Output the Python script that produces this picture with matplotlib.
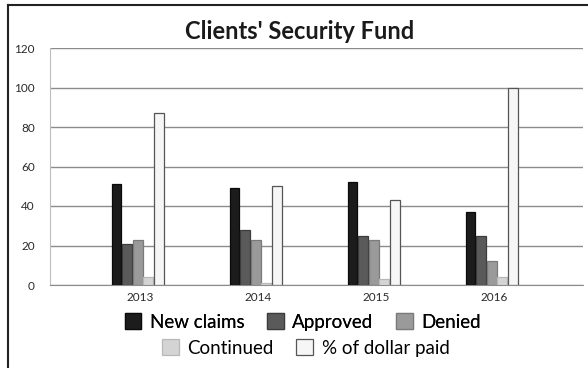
import numpy as np
import matplotlib
matplotlib.use("Agg")
import matplotlib.pyplot as plt
from matplotlib.patches import Patch
from matplotlib.lines import Line2D

plt.rcParams["font.family"] = ["Lato", "DejaVu Sans"]

years = ["2013", "2014", "2015", "2016"]
series = ["New claims", "Approved", "Denied", "Continued", "% of dollar paid"]
new_claims = [51, 49, 52, 37]
approved = [21, 28, 25, 25]
denied = [23, 23, 23, 12]
continued = [4, 1, 3, 4]
pct_paid = [87, 50, 43, 100]

values = [new_claims, approved, denied, continued, pct_paid]
fills = ["#1c1c1c", "#5a5a5a", "#9a9a9a", "#d4d4d4", "#f6f6f6"]
edges = ["#0a0a0a", "#3c3c3c", "#7a7a7a", "#b8b8b8", "#555555"]

fig = plt.figure(figsize=(5.88, 3.68), dpi=100)
ax = fig.add_axes([50 / 588, 1 - 285 / 368, 533 / 588, 237 / 368])

x = np.arange(len(years))
w = 0.09
for k, (vals, fc, ec) in enumerate(zip(values, fills, edges)):
    ax.bar(x + (k - 2) * w - 0.02, vals, width=w * 0.92, color=fc, edgecolor=ec,
           linewidth=0.9, zorder=3)

ax.set_xlim(-0.763, 3.754)
ax.set_ylim(0, 120)
ax.set_yticks(range(0, 121, 20))
ax.set_xticks(x)
ax.set_xticklabels(years)
ax.tick_params(length=0, labelsize=8.5, colors="#2a2a2a", pad=5)
ax.tick_params(axis="y", pad=11)
ax.grid(True, axis="y", color="#8c8c8c", lw=1.0, zorder=0)
for s in ["top", "right"]:
    ax.spines[s].set_visible(False)
ax.spines["left"].set_color("#bdbdbd")
ax.spines["bottom"].set_color("#8c8c8c")

fig.text(0.51, 0.915, "Clients' Security Fund", ha="center", va="center",
         fontsize=17, fontweight="bold", color="#1a1a1a")

# two centred legend rows
handles = [Patch(facecolor=fc, edgecolor=ec, lw=0.9, label=lab)
           for fc, ec, lab in zip(fills, edges, series)]
leg1 = fig.legend(handles=handles[:3], loc="center", bbox_to_anchor=(0.515, 1 - 322 / 368),
                  ncol=3, frameon=False, fontsize=13.5, handlelength=0.9, handleheight=0.9,
                  handletextpad=0.45, columnspacing=1.2, borderpad=0)
fig.add_artist(leg1)
fig.legend(handles=handles[3:], loc="center", bbox_to_anchor=(0.52, 1 - 348 / 368),
           ncol=2, frameon=False, fontsize=13.5, handlelength=0.9, handleheight=0.9,
           handletextpad=0.45, columnspacing=1.2, borderpad=0)

# outer frame on the left and top
fig.add_artist(Line2D([8 / 588, 8 / 588], [0, 1 - 5 / 368], color="#222222", lw=1.5,
                      transform=fig.transFigure))
fig.add_artist(Line2D([8 / 588, 1], [1 - 5 / 368, 1 - 5 / 368], color="#222222", lw=1.5,
                      transform=fig.transFigure))

fig.savefig("out.png", dpi=100, facecolor="white")
